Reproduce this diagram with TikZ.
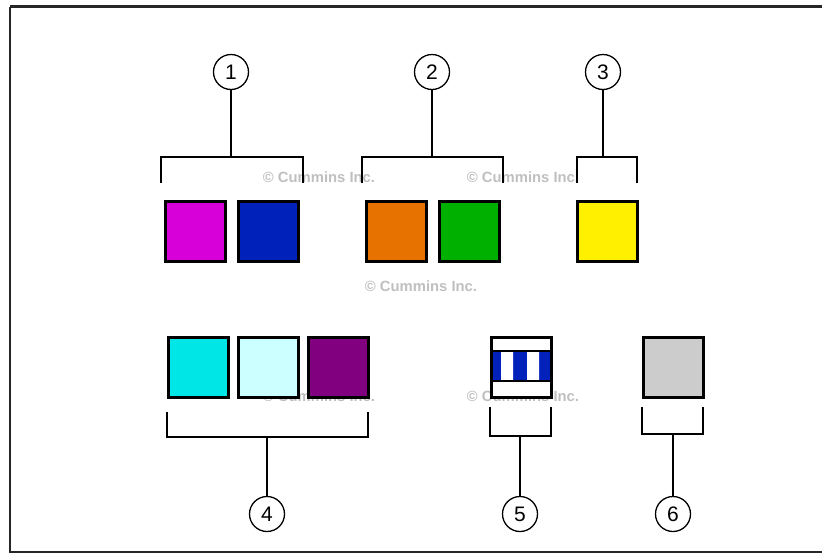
\documentclass[tikz,border=0pt]{standalone}
\usepackage{fontspec}
\setmainfont{Liberation Sans}
\definecolor{cmag}{RGB}{216,0,216}
\definecolor{cblue}{RGB}{0,34,187}
\definecolor{corange}{RGB}{232,114,0}
\definecolor{cgreen}{RGB}{0,176,0}
\definecolor{cyellow}{RGB}{255,240,0}
\definecolor{ccyan}{RGB}{0,229,229}
\definecolor{clcyan}{RGB}{204,255,255}
\definecolor{cpurple}{RGB}{128,0,128}
\definecolor{cgray}{RGB}{204,204,204}
\begin{document}
\begin{tikzpicture}[x=1pt,y=-1pt,
  sq/.style={draw=black,line width=2.6pt,minimum width=60pt,minimum height=60pt,inner sep=0pt,anchor=north west},
  num/.style={circle,draw=black,line width=1.3pt,minimum size=35pt,inner sep=0pt,font=\fontsize{21}{21}\selectfont},
  brk/.style={line width=2pt},
  wm/.style={text=black!25,font=\bfseries\fontsize{14.8}{15}\selectfont,inner sep=0pt}]
\useasboundingbox (0,0) rectangle (822,555);
\draw[line width=2.5pt,black!85] (10,6.5) -- (840,6.5) (10,6.5) -- (10,552) -- (840,552);
% watermarks
\node[wm] (w1) at (319,177) {© Cummins Inc.};
\node[wm] (w2) at (523,177) {© Cummins Inc.};
\node[wm] (w3) at (421,286) {© Cummins Inc.};
\node[wm] (w4) at (319,396) {© Cummins Inc.};
\node[wm] (w5) at (523,396) {© Cummins Inc.};
% row 1 squares
\node[sq,fill=cmag] (m) at (164,200) {};
\node[sq,fill=cblue] (b) at (237,200) {};
\node[sq,fill=corange] (o) at (365,200) {};
\node[sq,fill=cgreen] (g) at (438,200) {};
\node[sq,fill=cyellow] (y) at (576,200) {};
% row 2 squares
\node[sq,fill=ccyan] (c) at (167,336) {};
\node[sq,fill=clcyan] (lc) at (237,336) {};
\node[sq,fill=cpurple] (p) at (307,336) {};
\node[sq,fill=cgray] (gr) at (642,336) {};
% striped box
\node[sq,fill=white] (s) at (490,336) {};
\fill[cblue] (490,351) rectangle (550,381);
\fill[white] (501,351) rectangle (513,381) (527,351) rectangle (539,381);
\draw[line width=2pt] (490,351) -- (550,351) (490,381) -- (550,381);
\node[sq] at (490,336) {};
% numbers
\node[num] (n1) at (231,72) {1};
\node[num] (n2) at (432,72) {2};
\node[num] (n3) at (603,72) {3};
\node[num] (n4) at (267,514) {4};
\node[num] (n5) at (520,514) {5};
\node[num] (n6) at (673,514) {6};
% brackets
\coordinate (k1) at (231,157);
\coordinate (k2) at (432,157);
\coordinate (k3) at (603,157);
\coordinate (k4) at (267,437);
\coordinate (k5) at (520,436);
\coordinate (k6) at (673,434);
\draw[brk] (161,183) -- (161,157) -- (303,157) -- (303,183);
\draw[brk] (n1) -- (k1);
\draw[brk] (362,183) -- (362,157) -- (503,157) -- (503,183);
\draw[brk] (n2) -- (k2);
\draw[brk] (577,183) -- (577,157) -- (637,157) -- (637,183);
\draw[brk] (n3) -- (k3);
\draw[brk] (167,412) -- (167,437) -- (368,437) -- (368,412);
\draw[brk] (n4) -- (k4);
\draw[brk] (490,407) -- (490,436) -- (551,436) -- (551,407);
\draw[brk] (n5) -- (k5);
\draw[brk] (642,407) -- (642,434) -- (703,434) -- (703,407);
\draw[brk] (n6) -- (k6);
\end{tikzpicture}
\end{document}
